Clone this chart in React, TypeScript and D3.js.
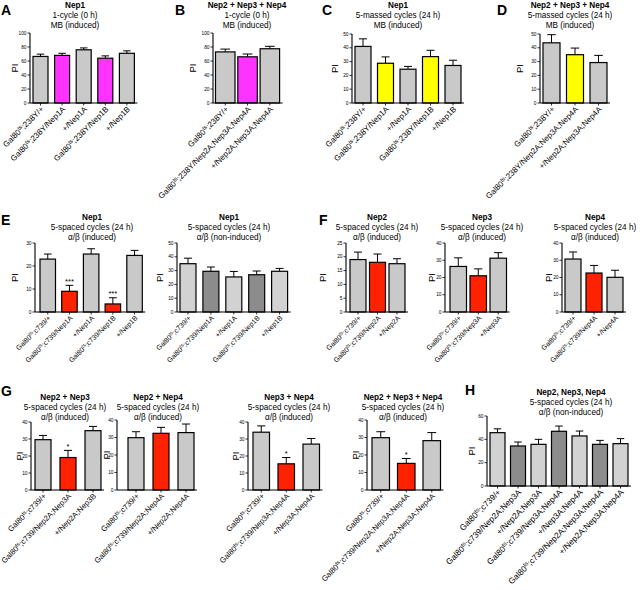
import React from "react";
import * as d3 from "d3";

const width = 640;
const height = 590;

const GRAY = "#c9c9c9";
const LIGHT = "#d2d2d2";
const DARK = "#8c8c8c";
const MAGENTA = "#ff33ff";
const YELLOW = "#ffff00";
const RED = "#ff2200";

// ---- data (PI means and SEM) ----
const aLabels = ["Gal80^ts;238Y/+", "Gal80^ts;238Y/Nep1A", "+/Nep1A", "Gal80^ts;238Y/Nep1B", "+/Nep1B"];
const aMeans = [66.5, 68, 76, 64, 71];
const aSem = [3.3, 3, 2.7, 3.3, 3.5];

const bLabels = ["Gal80^ts;238Y/+", "Gal80^ts;238Y/Nep2A;Nep3A;Nep4A", "+/Nep2A;Nep3A;Nep4A"];
const bMeans = [73, 66, 77.5];
const bSem = [4, 4, 3.5];

const cLabels = aLabels;
const cMeans = [41, 28.8, 24.5, 33.6, 27.2];
const cSem = [5.5, 4.6, 2, 4.6, 3.8];

const dLabels = bLabels;
const dMeans = [43.6, 35, 29.3];
const dSem = [5.9, 4.8, 5.2];

const eLabels = ["Gal80^ts;c739/+", "Gal80^ts;c739/Nep1A", "+/Nep1A", "Gal80^ts;c739/Nep1B", "+/Nep1B"];
const e1Means = [23, 9, 25.2, 3.5, 24.6];
const e1Sem = [2.2, 2.6, 2.3, 2.7, 2.2];
const e1Stars = ["", "***", "", "***", ""];
const e2Means = [35, 29.5, 25.4, 27, 29.5];
const e2Sem = [4, 3.1, 4, 2.7, 2.1];

const f1Labels = ["Gal80^ts;c739/+", "Gal80^ts;c739/Nep2A", "+/Nep2A"];
const f1Means = [19, 18, 17.5];
const f1Sem = [2.7, 3, 1.8];
const f2Labels = ["Gal80^ts;c739/+", "Gal80^ts;c739/Nep3A", "+/Nep3A"];
const f2Means = [26.4, 21, 31.2];
const f2Sem = [5, 4, 3.2];
const f3Labels = ["Gal80^ts;c739/+", "Gal80^ts;c739/Nep4A", "+/Nep4A"];
const f3Means = [30.7, 22.6, 20.1];
const f3Sem = [4.1, 4.4, 4.1];

const g1Labels = ["Gal80^ts;c739/+", "Gal80^ts;c739/Nep2A;Nep3A", "+/Nep2A;Nep3B"];
const g1Means = [29.6, 19.1, 34.9];
const g1Sem = [2.5, 4.2, 2.5];
const g2Labels = ["Gal80^ts;c739/+", "Gal80^ts;c739/Nep2A;Nep4A", "+/Nep2A;Nep4A"];
const g2Means = [29.9, 32.4, 32.8];
const g2Sem = [3.4, 3.4, 4.9];
const g3Labels = ["Gal80^ts;c739/+", "Gal80^ts;c739/Nep3A;Nep4A", "+/Nep3A;Nep4A"];
const g3Means = [34, 15.4, 27];
const g3Sem = [3.7, 3.7, 3.3];
const g4Labels = ["Gal80^ts;c739/+", "Gal80^ts;c739/Nep2A;Nep3A;Nep4A", "+/Nep2A;Nep3A;Nep4A"];
const g4Means = [29.9, 15.2, 28.2];
const g4Sem = [3.4, 2.8, 4.6];
const gStars = ["", "*", ""];

const hLabels = [
  "Gal80^ts;c739/+",
  "Gal80^ts;c739/Nep2A;Nep3A",
  "+/Nep2A;Nep3A",
  "Gal80^ts;c739/Nep3A;Nep4A",
  "+/Nep3A;Nep4A",
  "Gal80^ts;c739/Nep2A;Nep3A;Nep4A",
  "+/Nep2A;Nep3A;Nep4A",
];
const hMeans = [45.7, 34.3, 35.7, 46.9, 42.9, 35.7, 36.3];
const hSem = [3.3, 3.4, 4.3, 4.5, 4.2, 3.4, 4.3];

const spaced = "5-spaced cycles (24 h)";
const massed = "5-massed cycles (24 h)";
const ind = "\u03b1/\u03b2 (induced)";
const nonInd = "\u03b1/\u03b2 (non-induced)";

// fills by index: which genotypes are experimental
const alt = (n, idx, base, hi) => d3.range(n).map((i) => (idx.includes(i) ? hi : base));

// label font size differs per row (panels were assembled at different scales)
const LBL_TOP = 8;
const LBL_MID = 7;
const LBL_BOT = 7.7;
const LBL_H = 8.3;

const panels = [
  { title: ["Nep1", "1-cycle (0 h)", "MB (induced)"], labels: aLabels, means: aMeans, sem: aSem, fills: alt(5, [1, 3], GRAY, MAGENTA),
    lay: { axisX: 30, firstLeft: 33, step: 21.6, barW: 15, top: 33, bottom: 103, yMax: 100, tick: 20, titleX: 75, titleY: 8, piX: 15, lbl: LBL_TOP } },
  { title: ["Nep2 + Nep3 + Nep4", "1-cycle (0 h)", "MB (induced)"], labels: bLabels, means: bMeans, sem: bSem, fills: alt(3, [1], GRAY, MAGENTA),
    lay: { axisX: 213, firstLeft: 215.5, step: 22.3, barW: 19.5, top: 33, bottom: 103, yMax: 100, tick: 20, titleX: 247, titleY: 8, piX: 193, lbl: LBL_TOP } },
  { title: ["Nep1", massed, "MB (induced)"], labels: cLabels, means: cMeans, sem: cSem, fills: alt(5, [1, 3], GRAY, YELLOW),
    lay: { axisX: 352, firstLeft: 355, step: 22.5, barW: 16, top: 34, bottom: 103, yMax: 50, tick: 10, titleX: 398, titleY: 8, piX: 335, lbl: LBL_TOP } },
  { title: ["Nep2 + Nep3 + Nep4", massed, "MB (induced)"], labels: dLabels, means: dMeans, sem: dSem, fills: alt(3, [1], GRAY, YELLOW),
    lay: { axisX: 540, firstLeft: 543, step: 23.5, barW: 17, top: 34, bottom: 103, yMax: 50, tick: 10, titleX: 570, titleY: 8, piX: 520, lbl: LBL_TOP } },
  { title: ["Nep1", spaced, ind], labels: eLabels, means: e1Means, sem: e1Sem, stars: e1Stars, fills: alt(5, [1, 3], GRAY, RED),
    lay: { axisX: 35, firstLeft: 40, step: 21.7, barW: 15.5, top: 243, bottom: 312, yMax: 30, tick: 10, titleX: 92, titleY: 220, piX: 15, lbl: LBL_MID } },
  { title: ["Nep1", spaced, nonInd], labels: eLabels, means: e2Means, sem: e2Sem, fills: alt(5, [1, 3], LIGHT, DARK),
    lay: { axisX: 177, firstLeft: 180, step: 22.9, barW: 16, top: 243, bottom: 312, yMax: 50, tick: 10, titleX: 229, titleY: 220, piX: 160, lbl: LBL_MID } },
  { title: ["Nep2", spaced, ind], labels: f1Labels, means: f1Means, sem: f1Sem, fills: alt(3, [1], GRAY, RED),
    lay: { axisX: 346, firstLeft: 350, step: 19.5, barW: 16, top: 243, bottom: 312, yMax: 25, tick: 5, titleX: 377, titleY: 220, piX: 323, lbl: LBL_MID } },
  { title: ["Nep3", spaced, ind], labels: f2Labels, means: f2Means, sem: f2Sem, fills: alt(3, [1], GRAY, RED),
    lay: { axisX: 445, firstLeft: 450, step: 20, barW: 16.5, top: 243, bottom: 312, yMax: 40, tick: 10, titleX: 482, titleY: 220, piX: 432, lbl: LBL_MID } },
  { title: ["Nep4", spaced, ind], labels: f3Labels, means: f3Means, sem: f3Sem, fills: alt(3, [1], GRAY, RED),
    lay: { axisX: 562, firstLeft: 565, step: 21, barW: 16, top: 243, bottom: 312, yMax: 40, tick: 10, titleX: 595, titleY: 220, piX: 549, lbl: LBL_MID } },
  { title: ["Nep2 + Nep3", spaced, ind], labels: g1Labels, means: g1Means, sem: g1Sem, stars: gStars, fills: alt(3, [1], GRAY, RED),
    lay: { axisX: 31, firstLeft: 35, step: 25, barW: 16, top: 422, bottom: 490, yMax: 40, tick: 10, titleX: 65, titleY: 400, piX: 20, lbl: LBL_BOT } },
  { title: ["Nep2 + Nep4", spaced, ind], labels: g2Labels, means: g2Means, sem: g2Sem, fills: alt(3, [1], GRAY, RED),
    lay: { axisX: 117, firstLeft: 128, step: 25, barW: 16, top: 420, bottom: 490, yMax: 40, tick: 10, titleX: 158, titleY: 400, piX: 107, lbl: LBL_BOT } },
  { title: ["Nep3 + Nep4", spaced, ind], labels: g3Labels, means: g3Means, sem: g3Sem, stars: gStars, fills: alt(3, [1], GRAY, RED),
    lay: { axisX: 248, firstLeft: 253, step: 25, barW: 16.5, top: 422, bottom: 490, yMax: 40, tick: 10, titleX: 289, titleY: 400, piX: 236, lbl: LBL_BOT } },
  { title: ["Nep2 + Nep3 + Nep4", spaced, ind], labels: g4Labels, means: g4Means, sem: g4Sem, stars: gStars, fills: alt(3, [1], GRAY, RED),
    lay: { axisX: 367, firstLeft: 372, step: 25.5, barW: 17.5, top: 420, bottom: 490, yMax: 40, tick: 10, titleX: 403, titleY: 400, piX: 356, lbl: LBL_BOT } },
  { title: ["Nep2, Nep3, Nep4", spaced, nonInd], labels: hLabels, means: hMeans, sem: hSem, fills: alt(7, [1, 3, 5], LIGHT, DARK),
    lay: { axisX: 487, firstLeft: 490, step: 20.5, barW: 15, top: 416, bottom: 486, yMax: 60, tick: 20, titleX: 571, titleY: 395, piX: 472, lbl: LBL_H } },
];

const letters = [
  { t: "A", x: 1, y: 15 },
  { t: "B", x: 175, y: 15 },
  { t: "C", x: 322, y: 15 },
  { t: "D", x: 497, y: 15 },
  { t: "E", x: 1, y: 225 },
  { t: "F", x: 319, y: 225 },
  { t: "G", x: 1, y: 396 },
  { t: "H", x: 465, y: 395 },
];

const FONT = "Liberation Sans, Arial, sans-serif";

// "Gal80^ts;..." -> Gal80 + superscript ts
const GenoText = ({ text, size }) => {
  const parts = text.split("^ts");
  if (parts.length === 1) return <>{text}</>;
  return (
    <>
      <tspan>{parts[0]}</tspan>
      <tspan dy={-size * 0.35} fontSize={size * 0.72}>ts</tspan>
      <tspan dy={size * 0.35}>{parts[1]}</tspan>
    </>
  );
};

const BarPanel = ({ p }) => {
  const { lay, labels, means, sem, fills, stars, title } = p;
  const n = labels.length;
  const pad = 1 - lay.barW / lay.step;
  const x0 = lay.firstLeft - (lay.step - lay.barW) / 2;
  const x = d3
    .scaleBand()
    .domain(d3.range(n).map(String))
    .range([x0, x0 + n * lay.step])
    .paddingInner(pad)
    .paddingOuter(pad / 2);
  const y = d3.scaleLinear().domain([0, lay.yMax]).range([lay.bottom, lay.top]);
  const ticks = d3.range(0, lay.yMax + 0.001, lay.tick);
  const xEnd = x(String(n - 1)) + x.bandwidth() + 3;
  const bw = x.bandwidth();

  return (
    <g>
      {title.map((t, i) => (
        <text key={i} x={lay.titleX} y={lay.titleY + i * 10} textAnchor="middle" fontSize={8.2} fontWeight={i === 0 ? "bold" : "normal"}>
          {t}
        </text>
      ))}
      <text transform={`translate(${lay.piX},${(lay.top + lay.bottom) / 2}) rotate(-90)`} textAnchor="middle" dy="0.35em" fontSize={9.5}>
        PI
      </text>

      {means.map((m, i) => {
        const cx = x(String(i)) + bw / 2;
        const errTop = y(m + sem[i]);
        return (
          <g key={i}>
            <line x1={cx} x2={cx} y1={y(m)} y2={errTop} stroke="#000" strokeWidth={1} />
            <line x1={cx - bw * 0.25} x2={cx + bw * 0.25} y1={errTop} y2={errTop} stroke="#000" strokeWidth={1} />
            <rect x={x(String(i))} y={y(m)} width={bw} height={y(0) - y(m)} fill={fills[i]} stroke="#000" strokeWidth={1.2} />
            {stars && stars[i] && (
              <text x={cx} y={errTop - 1.5} textAnchor="middle" fontSize={7.5}>
                {stars[i]}
              </text>
            )}
          </g>
        );
      })}

      {/* y axis */}
      <line x1={lay.axisX} x2={lay.axisX} y1={y(lay.yMax)} y2={y(0)} stroke="#000" strokeWidth={1.1} />
      {ticks.map((t) => (
        <g key={t}>
          <line x1={lay.axisX - 2.5} x2={lay.axisX} y1={y(t)} y2={y(t)} stroke="#000" strokeWidth={0.8} />
          <text x={lay.axisX - 3.5} y={y(t)} dy="0.35em" textAnchor="end" fontSize={4.8}>
            {t}
          </text>
        </g>
      ))}

      {/* x axis */}
      <line x1={lay.axisX} x2={xEnd} y1={y(0)} y2={y(0)} stroke="#000" strokeWidth={1.1} />
      {labels.map((l, i) => {
        const cx = x(String(i)) + bw / 2;
        return (
          <g key={i}>
            <line x1={cx} x2={cx} y1={y(0)} y2={y(0) + 2.5} stroke="#000" strokeWidth={0.8} />
            <text transform={`translate(${cx + 2},${y(0) + 5}) rotate(-45)`} textAnchor="end" dy="0.3em" fontSize={lay.lbl}>
              <GenoText text={l} size={lay.lbl} />
            </text>
          </g>
        );
      })}
    </g>
  );
};

export default function App() {
  return (
    <svg
      width={width}
      height={height}
      style={{ position: "absolute", left: 0, top: 0, background: "#fff" }}
      fontFamily={FONT}
      fill="#000"
    >
      <rect width={width} height={height} fill="#fff" />
      {panels.map((p, i) => (
        <BarPanel key={i} p={p} />
      ))}
      {letters.map((l) => (
        <text key={l.t} x={l.x} y={l.y} fontSize={14} fontWeight="bold">
          {l.t}
        </text>
      ))}
    </svg>
  );
}
